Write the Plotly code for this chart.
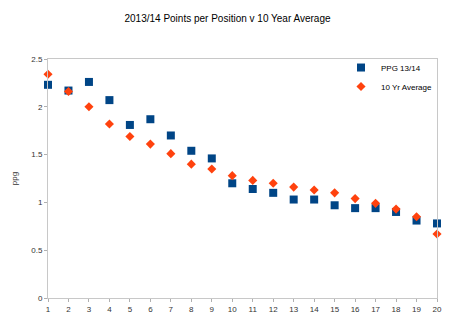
import plotly.graph_objects as go

positions = list(range(1, 21))
ppg_1314 = [2.23, 2.17, 2.26, 2.07, 1.81, 1.87, 1.70, 1.54, 1.46, 1.20,
            1.14, 1.10, 1.03, 1.03, 0.97, 0.94, 0.94, 0.90, 0.81, 0.78]
avg_10yr = [2.34, 2.16, 2.00, 1.82, 1.69, 1.61, 1.51, 1.40, 1.35, 1.28,
            1.23, 1.20, 1.16, 1.13, 1.10, 1.04, 0.99, 0.93, 0.85, 0.67]

fig = go.Figure()
fig.add_trace(go.Scatter(x=positions, y=ppg_1314, mode="markers", name="PPG 13/14",
                         marker=dict(symbol="square", size=8, color="#004586"),
                         cliponaxis=False))
fig.add_trace(go.Scatter(x=positions, y=avg_10yr, mode="markers", name="10 Yr Average",
                         marker=dict(symbol="diamond", size=7, color="#ff420e"),
                         cliponaxis=False))

fig.update_layout(
    width=455, height=335,
    margin=dict(l=48, r=18, t=59, b=37, autoexpand=False),
    paper_bgcolor="white", plot_bgcolor="white",
    font=dict(family="Liberation Sans, Arial, sans-serif", size=8, color="#333333"),
    title=dict(text="2013/14 Points per Position v 10 Year Average", x=0.5, xanchor="center",
               y=0.945, yanchor="middle", font=dict(size=10, color="#000000")),
    showlegend=True,
    legend=dict(x=1.0, y=1.025, xanchor="right", yanchor="top", bgcolor="rgba(0,0,0,0)",
                font=dict(size=8, color="#000000"), itemwidth=30, tracegroupgap=0),
    xaxis=dict(range=[1, 20], tickmode="linear", tick0=1, dtick=1, showgrid=False,
               zeroline=False, showline=True, linecolor="#c8c8c8", linewidth=1, mirror=True,
               ticks="outside", ticklen=3, tickcolor="#b0b0b0", tickfont=dict(size=8, color="#333333")),
    yaxis=dict(range=[0, 2.5], tickmode="linear", tick0=0, dtick=0.5, showgrid=False,
               zeroline=False, showline=True, linecolor="#c8c8c8", linewidth=1, mirror=True,
               ticks="outside", ticklen=3, tickcolor="#b0b0b0", tickfont=dict(size=8, color="#333333"),
               title=dict(text="ppg", font=dict(size=8, color="#333333"), standoff=12)),
)

fig.write_html("out.html")
